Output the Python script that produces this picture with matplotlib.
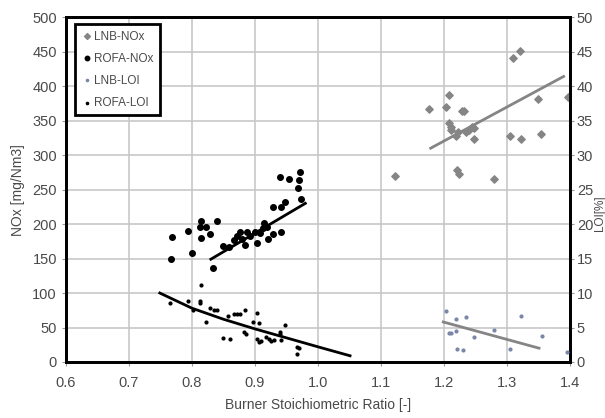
#!/usr/bin/env python
# -*- coding: utf-8 -*-

import numpy as np
import matplotlib
matplotlib.use('Agg')
import matplotlib.pyplot as plt

plt.rcParams['font.family'] = ['Liberation Sans', 'DejaVu Sans']

# LNB NOx (left axis)
lnb_nox_x = [1.122, 1.177, 1.204, 1.208, 1.208, 1.211, 1.212, 1.219, 1.222, 1.228,
             1.232, 1.235, 1.240, 1.244, 1.248, 1.248, 1.220, 1.224, 1.280, 1.305,
             1.322, 1.309, 1.321, 1.350, 1.354, 1.397]
lnb_nox_y = [270, 367, 370, 387, 346, 341, 337, 328, 334, 364,
             364, 334, 337, 340, 339, 323, 278, 273, 265, 327,
             323, 441, 451, 382, 331, 384]

# ROFA NOx (left axis)
rofa_nox_x = [0.766, 0.769, 0.794, 0.800, 0.814, 0.813, 0.822, 0.814, 0.829, 0.839,
              0.834, 0.849, 0.859, 0.866, 0.871, 0.876, 0.880, 0.884, 0.887, 0.892,
              0.900, 0.904, 0.908, 0.913, 0.915, 0.919, 0.921, 0.929, 0.929, 0.941,
              0.942, 0.948, 0.940, 0.954, 0.971, 0.970, 0.968, 0.973]
rofa_nox_y = [149, 181, 190, 158, 205, 195, 195, 180, 186, 205,
              136, 168, 166, 177, 183, 189, 179, 170, 189, 182,
              189, 172, 187, 194, 201, 196, 178, 186, 224, 189,
              225, 232, 268, 265, 276, 264, 252, 237]

# LNB LOI (right axis)
lnb_loi_x = [1.204, 1.219, 1.235, 1.208, 1.211, 1.219, 1.248, 1.280, 1.220, 1.230,
             1.305, 1.323, 1.355, 1.396]
lnb_loi_y = [7.4, 6.3, 6.5, 4.2, 4.2, 4.5, 3.6, 4.6, 1.9, 1.7,
             1.9, 6.7, 3.7, 1.5]

# ROFA LOI (right axis)
rofa_loi_x = [0.765, 0.794, 0.801, 0.813, 0.813, 0.814, 0.822, 0.829, 0.835, 0.839,
              0.849, 0.858, 0.860, 0.866, 0.871, 0.876, 0.884, 0.883, 0.886, 0.897,
              0.904, 0.906, 0.903, 0.907, 0.910, 0.918, 0.922, 0.925, 0.930, 0.940,
              0.940, 0.948, 0.942, 0.967, 0.970, 0.967]
rofa_loi_y = [8.6, 8.9, 7.6, 8.9, 8.5, 11.2, 5.8, 7.9, 7.6, 7.6,
              3.5, 6.6, 3.4, 6.9, 6.9, 6.9, 7.5, 4.4, 4.1, 5.8,
              7.1, 5.7, 3.4, 2.9, 3.1, 3.6, 3.4, 3.1, 3.2, 4.4,
              4.1, 5.4, 3.2, 2.2, 2.0, 1.2]

# trend lines
lnb_nox_fit_x = [1.179, 1.390]
lnb_nox_fit_y = [310, 414]
rofa_nox_fit_x = [0.830, 0.980]
rofa_nox_fit_y = [149, 230]
lnb_loi_fit_x = [1.199, 1.351]
lnb_loi_fit_y = [5.8, 2.0]
rofa_loi_fit_x = [0.749, 0.80, 0.85, 0.90, 0.95, 1.00, 1.051]
rofa_loi_fit_y = [10.0, 7.8, 6.2, 4.8, 3.5, 2.2, 0.9]

grey = '#858585'
tick_col = '#4a4a4a'

fig = plt.figure(figsize=(6.05, 4.18), dpi=100)
ax = fig.add_axes([0.109, 0.134, 0.833, 0.825])
ax2 = ax.twinx()

ax.set_xlim(0.6, 1.4)
ax.set_ylim(0, 500)
ax2.set_ylim(0, 50)
ax.set_xticks(np.arange(0.6, 1.41, 0.1))
ax.set_xticklabels(['0.6', '0.7', '0.8', '0.9', '1.0', '1.1', '1.2', '1.3', '1.4'])
ax.set_yticks(np.arange(0, 501, 50))
ax2.set_yticks(np.arange(0, 51, 5))

ax.grid(True, color='#c8c8c8', linewidth=1.2)
ax.set_axisbelow(True)

h1 = ax.scatter(lnb_nox_x, lnb_nox_y, marker='D', s=14, color=grey, label='LNB-NOx', zorder=3)
h2 = ax.scatter(rofa_nox_x, rofa_nox_y, marker='o', s=16, color='black', label='ROFA-NOx', zorder=3)
ax.plot(lnb_nox_fit_x, lnb_nox_fit_y, color=grey, linewidth=2, zorder=3)
ax.plot(rofa_nox_fit_x, rofa_nox_fit_y, color='black', linewidth=2, zorder=3)

h3 = ax2.scatter(lnb_loi_x, lnb_loi_y, marker='o', s=4, color='#7a86a8', label='LNB-LOI', zorder=3)
h4 = ax2.scatter(rofa_loi_x, rofa_loi_y, marker='o', s=4, color='black', label='ROFA-LOI', zorder=3)
ax2.plot(lnb_loi_fit_x, lnb_loi_fit_y, color=grey, linewidth=2, zorder=3)
ax2.plot(rofa_loi_fit_x, rofa_loi_fit_y, color='black', linewidth=2, zorder=3)

for a in (ax, ax2):
    for s in a.spines.values():
        s.set_linewidth(2)
        s.set_color('black')
    a.tick_params(labelsize=10.5, labelcolor=tick_col, color='#999999', length=3)
ax.tick_params(axis='x', pad=7)
ax2.tick_params(axis='y', pad=2)

ax.set_xlabel('Burner Stoichiometric Ratio [-]', fontsize=10, color=tick_col, labelpad=6)
ax.set_ylabel('NOx [mg/Nm3]', fontsize=10, color=tick_col, labelpad=5)
fig.text(0.982, 0.49, 'LOI[%]', rotation=90, ha='left', va='center', fontsize=8.5, color=tick_col)

leg = ax2.legend(handles=[h1, h2, h3, h4], loc='upper left', bbox_to_anchor=(0.018, 0.98),
                 borderaxespad=0, fontsize=8.5, handletextpad=0.1, handlelength=1.0,
                 labelspacing=0.85, borderpad=0.55, fancybox=False, framealpha=1, markerscale=0.8)
leg.get_frame().set_edgecolor('black')
leg.get_frame().set_linewidth(2)
for t in leg.get_texts():
    t.set_color(tick_col)

fig.savefig('out.png', dpi=100)
